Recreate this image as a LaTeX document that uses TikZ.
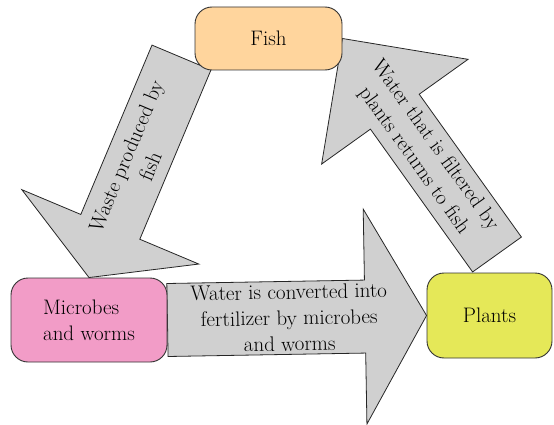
\documentclass[tikz,border=0pt]{standalone}
\usetikzlibrary{calc,backgrounds}

\definecolor{fishorange}{HTML}{FFD59D}
\definecolor{microbepink}{HTML}{F29CC7}
\definecolor{plantyellow}{HTML}{E5E858}
\definecolor{flowgray}{HTML}{D0D0D0}

\newcommand{\diagfont}{\rmfamily\fontsize{21}{26}\selectfont}

\tikzset{
  box/.style={draw=black!80, line width=0.9pt, rounded corners=17pt, font=\diagfont, align=center},
  flow/.style={draw=black!85, line width=0.8pt, fill=flowgray, line join=miter},
  flowtext/.style={font=\diagfont, align=center, sloped, pos=0.47},
}

% block arrow: tail, tip, shaft half width, head half width, head length
\newcommand{\blockarrow}[5]{%
  \coordinate (ba-h) at ($(#2)!#5!(#1)$);
  \draw[flow] ($(#1)!#3!90:(#2)$) -- ($(ba-h)!#3!90:(#2)$) -- ($(ba-h)!#4!90:(#2)$)
    -- (#2) -- ($(ba-h)!#4!-90:(#2)$) -- ($(ba-h)!#3!-90:(#2)$) -- ($(#1)!#3!-90:(#2)$) -- cycle;
}

\begin{document}
\begin{tikzpicture}[x=1pt, y=-1pt]
\useasboundingbox (0,0) rectangle (554,425);

% the three tanks
\node[box, fill=fishorange, minimum width=147pt, minimum height=63pt] (fish) at (268.5,38.5) {Fish};
\node[box, fill=microbepink, minimum width=156pt, minimum height=84pt, align=left] (microbes) at (89,320) {Microbes\\and worms};
\node[box, fill=plantyellow, minimum width=125pt, minimum height=85pt] (plants) at (489.5,315.5) {Plants};

\coordinate (wastetail) at (181.5,57.5);
\coordinate (returntail) at (497,254.5);

% flows between them
\begin{scope}[on background layer]
\blockarrow{wastetail}{microbes.north}{32pt}{96pt}{55pt}
\blockarrow{microbes.east}{plants.west}{36.5pt}{107.5pt}{61.5pt}
\blockarrow{returntail}{fish.east}{30pt}{90pt}{90pt}
\end{scope}

\path (wastetail) -- node[flowtext] (wastetext) {Waste produced by\\fish} (microbes.north);
\path (microbes.east) -- node[flowtext] (convtext) {Water is converted into\\fertilizer by microbes\\and worms} (plants.west);
\path (returntail) -- node[flowtext] (returntext) {Water that is filtered by\\plants returns to fish} (fish.east);
\end{tikzpicture}
\end{document}
